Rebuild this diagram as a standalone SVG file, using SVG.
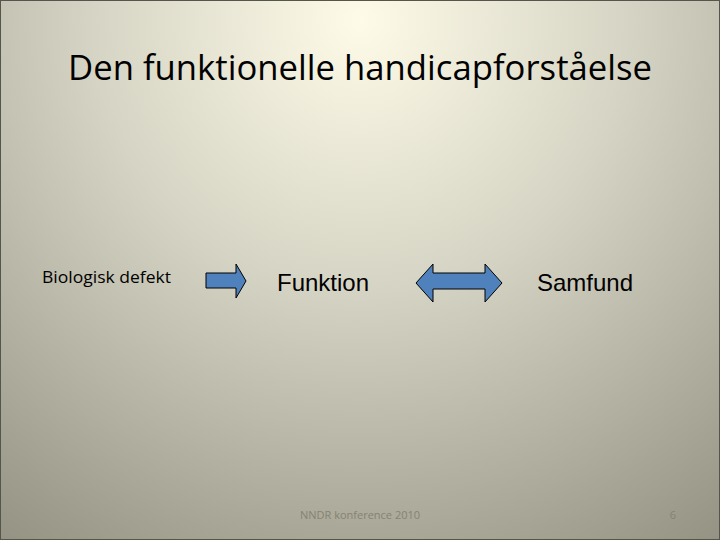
<svg xmlns="http://www.w3.org/2000/svg" width="720" height="540" viewBox="0 0 720 540">
<defs>
<radialGradient id="bg" gradientUnits="userSpaceOnUse" cx="360" cy="20" r="760" fx="360" fy="20">
<stop offset="0" stop-color="#fefbe8"/>
<stop offset="0.35" stop-color="#d6d4c4"/>
<stop offset="0.7" stop-color="#a6a494"/>
<stop offset="1" stop-color="#7e7c6e"/>
</radialGradient>
<style>
.arrow{fill:#4f81bd;stroke:#000;stroke-width:1}
.t{font-family:"Liberation Sans",Arial,sans-serif;fill:#000}
.c{font-family:"Open Sans","Noto Sans",sans-serif;fill:#000}
.f{font-family:"Open Sans","Noto Sans",sans-serif;fill:#858373;font-size:11px}
</style>
</defs>
<rect x="0" y="0" width="720" height="540" fill="url(#bg)"/>
<rect x="0.5" y="0.5" width="719" height="539" fill="none" stroke="#55554c" stroke-width="1"/>
<g id="title"><text class="c" x="360" y="80" font-size="34" text-anchor="middle" textLength="584" lengthAdjust="spacingAndGlyphs">Den funktionelle handicapforståelse</text></g>
<g id="biologisk"><text class="c" x="42" y="283" font-size="16" textLength="129" lengthAdjust="spacingAndGlyphs">Biologisk defekt</text></g>
<g id="funktion"><text class="t" x="277" y="291" font-size="24">Funktion</text></g>
<g id="samfund"><text class="t" x="537" y="291" font-size="24">Samfund</text></g>
<g id="connectors">
<path class="arrow" d="M206,273 L236,273 L236,264 L246,281 L236,298 L236,288 L206,288 Z"/>
<path class="arrow" d="M416,283 L433,264 L433,273 L485,273 L485,264 L502,283 L485,302 L485,289 L433,289 L433,302 Z"/>
</g>
<g id="footer">
<text class="f" x="360" y="519" text-anchor="middle">NNDR konference 2010</text>
<text class="f" x="673" y="519" text-anchor="middle">6</text>
</g>
</svg>
